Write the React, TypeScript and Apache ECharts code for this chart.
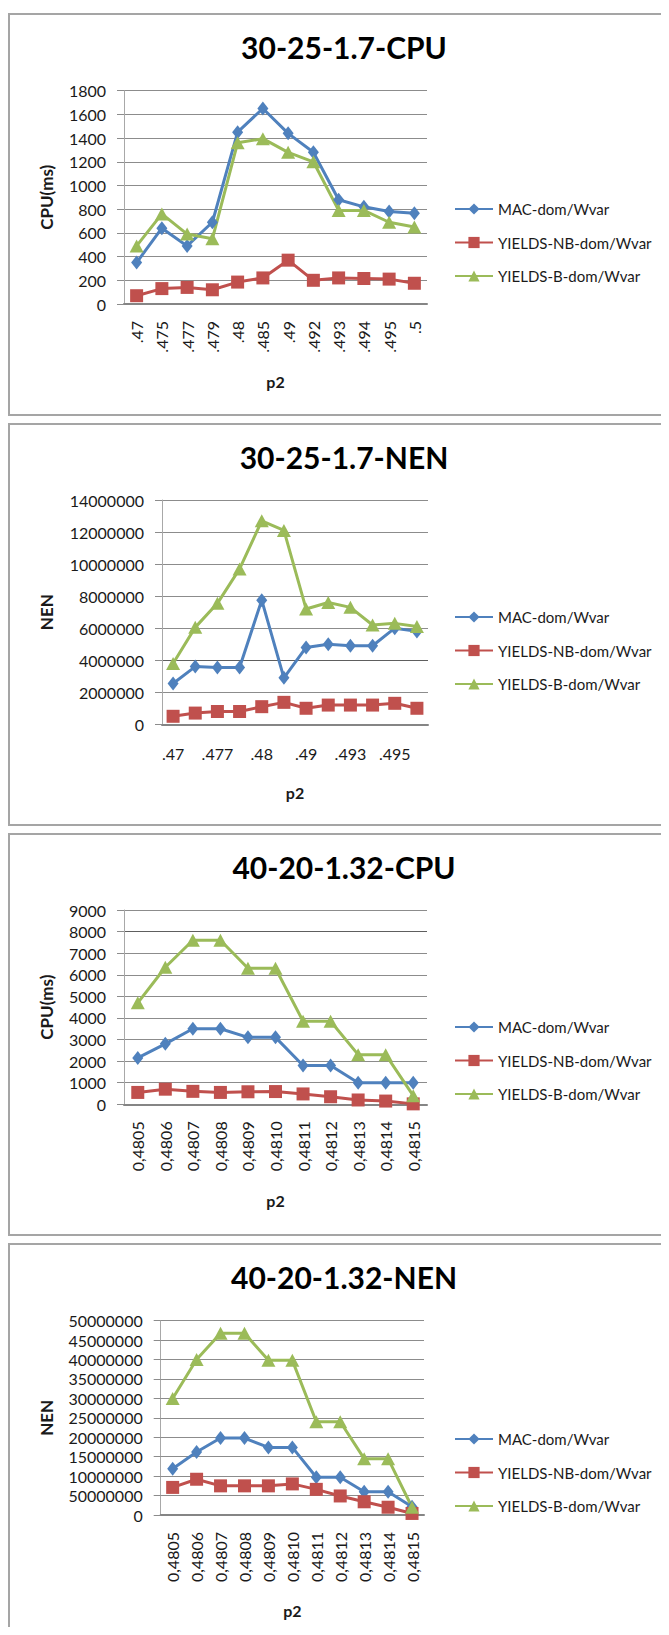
import React, { useEffect, useRef } from "react";
import * as echarts from "echarts";

// ---------- data ----------
const SERIES_NAMES = ["MAC-dom/Wvar", "YIELDS-NB-dom/Wvar", "YIELDS-B-dom/Wvar"];

const CATS_30 = [".47", ".475", ".477", ".479", ".48", ".485", ".49", ".492", ".493", ".494", ".495", ".5"];
const CATS_40 = ["0,4805", "0,4806", "0,4807", "0,4808", "0,4809", "0,4810", "0,4811", "0,4812", "0,4813", "0,4814", "0,4815"];

const CPU30_MAC = [350, 640, 490, 690, 1450, 1650, 1440, 1280, 880, 820, 780, 765];
const CPU30_NB = [70, 130, 140, 120, 185, 220, 370, 200, 220, 215, 210, 175];
const CPU30_B = [490, 760, 590, 550, 1360, 1395, 1280, 1200, 790, 790, 690, 650];

const NEN30_MAC = [2550000, 3600000, 3550000, 3550000, 7750000, 2900000, 4800000, 5000000, 4900000, 4900000, 6000000, 5800000];
const NEN30_NB = [500000, 700000, 800000, 800000, 1100000, 1370000, 1000000, 1200000, 1200000, 1200000, 1310000, 1000000];
const NEN30_B = [3800000, 6050000, 7550000, 9700000, 12700000, 12100000, 7200000, 7600000, 7300000, 6200000, 6300000, 6100000];

const CPU40_MAC = [2150, 2800, 3500, 3500, 3100, 3100, 1800, 1800, 1000, 1000, 1000];
const CPU40_NB = [550, 700, 600, 550, 580, 590, 480, 350, 200, 150, 20];
const CPU40_B = [4700, 6350, 7600, 7600, 6300, 6300, 3850, 3850, 2300, 2300, 400];

const NEN40_MAC = [11900000, 16200000, 19800000, 19800000, 17400000, 17400000, 9700000, 9700000, 6000000, 6000000, 2100000];
const NEN40_NB = [7100000, 9200000, 7500000, 7500000, 7500000, 8000000, 6600000, 4900000, 3400000, 2000000, 400000];
const NEN40_B = [30000000, 40000000, 46800000, 46800000, 39800000, 39800000, 24000000, 24000000, 14500000, 14500000, 2000000];

// tick labels as printed on the 40-20-1.32-NEN chart
const NEN40_TICKS = ["0", "50000000", "10000000", "15000000", "20000000", "25000000", "30000000", "35000000", "40000000", "45000000", "50000000"];

// ---------- styles ----------
const COLORS = ["#4F81BD", "#C0504D", "#9BBB59"];
const SYMBOLS = ["diamond", "rect", "triangle"];
const SYMBOL_SIZES: any[] = [[11, 14], [13, 13], [14, 13]];
const FONT = "Lato";
const GRID_COLOR = "#8c8c8c";
const GRID_DARK = "#5e5e5e";

type Cfg = {
  title: string;
  yName: string;
  cats: string[];
  series: number[][];
  yMax: number;
  yInterval: number;
  yTicks?: string[];
  darkLine?: number;
  grid: { left: number; top: number; width: number; height: number };
  xRotate: number;
  xInterval: number;
  xMargin: number;
  xNameGap: number;
  yNameGap: number;
  legendTop: number;
  boxTop: number;
};

const CONFIGS: Cfg[] = [
  {
    title: "30-25-1.7-CPU", yName: "CPU(ms)", cats: CATS_30,
    series: [CPU30_MAC, CPU30_NB, CPU30_B], yMax: 1800, yInterval: 200,
    grid: { left: 114, top: 75.7, width: 303, height: 213.3 },
    xRotate: 90, xInterval: 0, xMargin: 17, xNameGap: 69, yNameGap: 69, legendTop: 186, boxTop: 5,
  },
  {
    title: "30-25-1.7-NEN", yName: "NEN", cats: CATS_30,
    series: [NEN30_MAC, NEN30_NB, NEN30_B], yMax: 14000000, yInterval: 2000000, darkLine: 2,
    grid: { left: 152, top: 75, width: 266, height: 224.3 },
    xRotate: 0, xInterval: 1, xMargin: 21, xNameGap: 60, yNameGap: 107, legendTop: 184, boxTop: 415,
  },
  {
    title: "40-20-1.32-CPU", yName: "CPU(ms)", cats: CATS_40,
    series: [CPU40_MAC, CPU40_NB, CPU40_B], yMax: 9000, yInterval: 1000, darkLine: 8,
    grid: { left: 114, top: 75, width: 303, height: 194.3 },
    xRotate: 90, xInterval: 0, xMargin: 17, xNameGap: 88, yNameGap: 69, legendTop: 184, boxTop: 825,
  },
  {
    title: "40-20-1.32-NEN", yName: "NEN", cats: CATS_40,
    series: [NEN40_MAC, NEN40_NB, NEN40_B], yMax: 50000000, yInterval: 5000000, yTicks: NEN40_TICKS,
    grid: { left: 150.7, top: 75.7, width: 263.3, height: 194.3 },
    xRotate: 90, xInterval: 0, xMargin: 17, xNameGap: 87, yNameGap: 106, legendTop: 186, boxTop: 1235,
  },
];

function buildOption(cfg: Cfg): any {
  const nTicks = Math.round(cfg.yMax / cfg.yInterval) + 1;
  const splitColors: string[] = [];
  for (let i = 0; i < nTicks; i++) splitColors.push(i === cfg.darkLine ? GRID_DARK : GRID_COLOR);
  return {
    animation: false,
    backgroundColor: "#ffffff",
    title: {
      text: cfg.title,
      left: "center",
      top: 12,
      textStyle: { fontFamily: FONT, fontWeight: "bold", fontSize: 30, color: "#000000" },
    },
    legend: {
      orient: "vertical",
      left: 444,
      top: cfg.legendTop,
      padding: 0,
      itemWidth: 38,
      itemHeight: 14,
      itemGap: 17.5,
      data: SERIES_NAMES,
      textStyle: { fontFamily: FONT, fontSize: 15, color: "#1a1a1a", lineHeight: 16 },
    },
    grid: { ...cfg.grid },
    xAxis: {
      type: "category",
      data: cfg.cats,
      boundaryGap: true,
      name: "p2",
      nameLocation: "middle",
      nameGap: cfg.xNameGap,
      nameTextStyle: { fontFamily: FONT, fontWeight: "bold", fontSize: 16, color: "#1a1a1a" },
      axisLine: { show: true, lineStyle: { color: "#858585", width: 2 } },
      axisTick: { show: false },
      splitLine: { show: false },
      axisLabel: {
        rotate: cfg.xRotate,
        interval: cfg.xInterval,
        margin: cfg.xMargin,
        fontFamily: FONT,
        fontSize: 16,
        color: "#1a1a1a",
      },
    },
    yAxis: {
      type: "value",
      min: 0,
      max: cfg.yMax,
      interval: cfg.yInterval,
      name: cfg.yName,
      nameLocation: "middle",
      nameRotate: 90,
      nameGap: cfg.yNameGap,
      nameTextStyle: { fontFamily: FONT, fontWeight: "bold", fontSize: 17, color: "#1a1a1a" },
      axisLine: { show: true, lineStyle: { color: "#a8a8a8", width: 1 } },
      axisTick: { show: true, length: 7, lineStyle: { color: GRID_COLOR, width: 1 } },
      splitLine: { show: true, lineStyle: { color: splitColors, width: 1 } },
      axisLabel: {
        margin: 18,
        fontFamily: FONT,
        fontSize: 16,
        color: "#1a1a1a",
        formatter: cfg.yTicks
          ? (v: number) => cfg.yTicks![Math.round(v / cfg.yInterval)] ?? String(v)
          : (v: number) => String(v),
      },
    },
    series: cfg.series.map((vals, i) => ({
      name: SERIES_NAMES[i],
      type: "line",
      data: vals,
      symbol: SYMBOLS[i],
      symbolSize: SYMBOL_SIZES[i],
      showAllSymbol: true,
      color: COLORS[i],
      itemStyle: { color: COLORS[i] },
      lineStyle: { color: COLORS[i], width: 3, join: "round" },
      emphasis: { disabled: true },
    })),
  };
}

function ChartBox({ cfg }: { cfg: Cfg }) {
  const ref = useRef<HTMLDivElement>(null);
  useEffect(() => {
    if (!ref.current) return;
    const chart = echarts.init(ref.current, null, { renderer: "svg" });
    chart.setOption(buildOption(cfg));
    return () => chart.dispose();
  }, [cfg]);
  return (
    <div
      style={{
        position: "absolute",
        left: 0,
        top: cfg.boxTop,
        width: 676,
        height: 399,
        border: "2px solid #a5a5a5",
        background: "#ffffff",
      }}
    >
      <div ref={ref} style={{ width: 668, height: 399 }} />
    </div>
  );
}

export default function App() {
  return (
    <div
      style={{
        position: "relative",
        width: 661,
        height: 1627,
        overflow: "hidden",
        marginBottom: -8,
        background: "#ffffff",
      }}
    >
      {CONFIGS.map((cfg) => (
        <ChartBox key={cfg.title} cfg={cfg} />
      ))}
    </div>
  );
}
